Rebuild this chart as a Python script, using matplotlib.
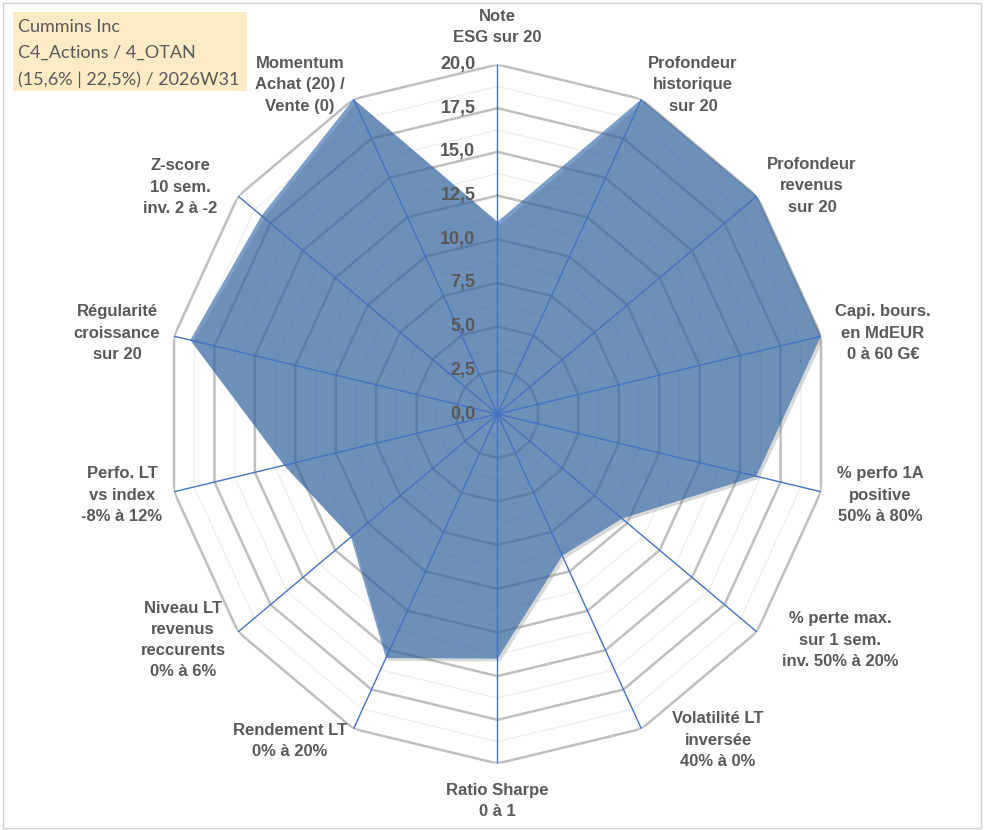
import numpy as np
import matplotlib
matplotlib.use("Agg")
import matplotlib.pyplot as plt
import matplotlib.transforms as mtransforms
import matplotlib.patheffects as pe
from matplotlib.patches import Rectangle

# ---------------- data ----------------
categories = [
    "Note\nESG sur 20",
    "Profondeur\nhistorique\nsur 20",
    "Profondeur\nrevenus\nsur 20",
    "Capi. bours.\nen MdEUR\n0 à 60 G€",
    "% perfo 1A\npositive\n50% à 80%",
    "% perte max.\nsur 1 sem.\ninv. 50% à 20%",
    "Volatilité LT\ninversée\n40% à 0%",
    "Ratio Sharpe\n0 à 1",
    "Rendement LT\n0% à 20%",
    "Niveau LT\nrevenus\nreccurents\n0% à 6%",
    "Perfo. LT\nvs index\n-8% à 12%",
    "Régularité\ncroissance\nsur 20",
    "Z-score\n10 sem.\ninv. 2 à -2",
    "Momentum\nAchat (20) /\nVente (0)",
]
values = [11.0, 20.0, 20.0, 20.0, 16.0, 9.6, 9.0, 14.0, 15.5, 11.3, 13.2, 19.0, 18.2, 20.0]
ticks = [0.0, 2.5, 5.0, 7.5, 10.0, 12.5, 15.0, 17.5, 20.0]
title_lines = ["Cummins Inc", "C4_Actions / 4_OTAN", "(15,6% | 22,5%) / 2026W31"]

# label centre positions in pixels (x, y from top)
label_pos = [
    (497, 27), (693, 85), (812, 186), (883, 333), (880, 495), (840, 640),
    (718, 740), (497, 801), (290, 741), (183, 640), (122, 495), (117, 333),
    (180, 187), (300, 85),
]

W, H = 991, 830
fig = plt.figure(figsize=(W / 100, H / 100), dpi=100)
fig.patch.set_facecolor("white")

# axes box: centre (497.5, 414) px, radii 331.8 (x) / 349.5 (y)
cx, cy, rx, ry = 497.5, 414.0, 331.8, 349.5
ax = fig.add_axes([(cx - rx) / W, (H - (cy + ry)) / H, 2 * rx / W, 2 * ry / H],
                  projection="polar")
ax.set_aspect("auto")
ax.set_theta_zero_location("N")
ax.set_theta_direction(-1)
ax.set_ylim(0, 20)
ax.set_axis_off()

n = len(categories)
theta = np.linspace(0, 2 * np.pi, n, endpoint=False)
theta_c = np.append(theta, theta[0])

# minor rings
for r in np.arange(1.25, 20, 2.5):
    ax.plot(theta_c, [r] * (n + 1), color="#EDEDED", lw=0.8, zorder=1)
# major rings
for r in ticks[1:]:
    ax.plot(theta_c, [r] * (n + 1), color="#BFBFBF", lw=1.8, zorder=1.5,
            solid_joinstyle="miter")

# filled series
vals_c = np.append(values, values[0])
poly = ax.fill(theta_c, vals_c, color=(36 / 255, 96 / 255, 164 / 255), alpha=0.6,
               lw=0, zorder=2)[0]
poly.set_path_effects([pe.SimplePatchShadow(offset=(2, -2), shadow_rgbFace="#808080",
                                            alpha=0.3), pe.Normal()])

# spokes
for t in theta:
    ax.plot([t, t], [0, 20], color="#4472C4", lw=1.0, zorder=3)

# radial tick labels
off = mtransforms.offset_copy(ax.transData, fig=fig, x=-22, y=0, units="dots")
for r in ticks:
    ax.text(0, r, f"{r:.1f}".replace(".", ","), transform=off, ha="right",
            va="center", fontsize=13, fontweight="bold", color="#595959",
            family="Liberation Sans", zorder=5)

# category labels
for lab, (px, py) in zip(categories, label_pos):
    fig.text(px / W, 1 - py / H, lab, ha="center", va="center", fontsize=12,
             fontweight="bold", color="#595959", family="Liberation Sans",
             linespacing=1.52, multialignment="center")

# title box
fig.patches.append(Rectangle((12.7 / W, 1 - 91 / H), (246.7 - 12.7) / W, (91 - 11.7) / H,
                             transform=fig.transFigure, facecolor="#FDEBC6",
                             edgecolor="none", zorder=0))
for i, line in enumerate(title_lines):
    fig.text(18 / W, 1 - (26.7 + 26.3 * i) / H, line, ha="left", va="center",
             fontsize=13, color="#595959", family="Lato")

# chart border
fig.patches.append(Rectangle((3 / W, 1 - 828 / H), (981 - 3) / W, (828 - 3) / H,
                             transform=fig.transFigure, facecolor="none",
                             edgecolor="#D0D0D0", lw=1.0, zorder=0))

fig.savefig("out.png", dpi=100, facecolor="white")
